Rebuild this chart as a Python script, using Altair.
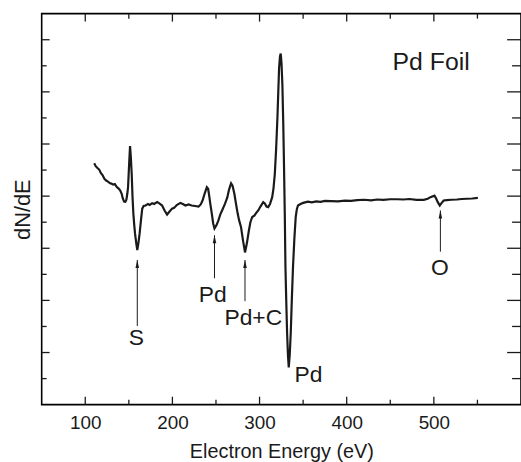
import altair as alt
import pandas as pd

# ---- data ----
energy = [110.3, 112, 114, 116, 118, 120, 122, 124, 126, 128, 130, 132, 134, 136, 138, 140,
          141.8, 143, 144.5, 146, 147.2, 148.3, 149.1, 150.3, 151.4, 152.3, 153.3, 154.2, 155.2,
          156.2, 157.1, 158.5, 159.7, 161, 162.4, 164, 165.4, 167, 169.2, 172, 174, 176.8, 179,
          182.5, 185, 188.2, 191, 193.9, 196, 199.6, 202, 205, 209.1, 212, 215, 218.6, 222, 226,
          230, 232.5, 234.6, 237, 239.5, 241, 242.2, 243.5, 245.2, 246.8, 248.3, 250.5, 252.8,
          255, 257, 260.4, 263, 265, 267.3, 269, 271.1, 273, 274.9, 276.5, 278.7, 281, 283.3,
          285.5, 287.8, 289.5, 291.6, 294, 296, 298.5, 301, 304.2, 306, 308, 309.9, 312, 314.5,
          316, 317.5, 319, 320.5, 321.5, 322.4, 323.4, 324.3, 325.2, 326.2, 327.2, 328.1, 329,
          329.7, 330.7, 331.6, 332.6, 333.5, 334.6, 335.8, 337, 338.4, 340, 341.5, 342.8, 344.1,
          347, 350, 355.5, 360, 365, 370, 375, 382.1, 390, 398, 405, 412, 420.1, 428, 435, 442,
          450, 458.1, 465, 472, 480, 488.5, 493, 496.1, 500.7, 502.5, 504.5, 506.8, 509, 511.3,
          515, 520, 526.5, 532, 538, 544, 550.5]
signal = [9.26, 9.15, 9.08, 9.02, 8.88, 8.80, 8.66, 8.60, 8.56, 8.50, 8.48, 8.44, 8.46, 8.36, 8.30, 8.22,
          8.09, 7.92, 7.79, 7.78, 7.86, 8.10, 8.34, 9.20, 9.92, 9.50, 8.85, 8.00, 7.33,
          6.90, 6.57, 6.20, 5.93, 6.20, 6.57, 7.10, 7.52, 7.62, 7.64, 7.70, 7.66, 7.73, 7.70,
          7.77, 7.72, 7.64, 7.45, 7.29, 7.38, 7.52, 7.55, 7.66, 7.74, 7.70, 7.64, 7.68, 7.64, 7.62,
          7.60, 7.68, 7.83, 8.10, 8.34, 8.28, 8.02, 7.70, 7.33, 6.95, 6.76, 6.88, 7.07,
          7.30, 7.45, 7.71, 7.95, 8.25, 8.49, 8.40, 8.09, 7.70, 7.33, 7.08, 6.82, 6.30, 5.84,
          6.20, 6.69, 7.00, 7.20, 7.25, 7.35, 7.45, 7.60, 7.77, 7.72, 7.60, 7.58, 7.70, 7.96,
          8.30, 8.85, 9.80, 11.0, 12.0, 12.9, 13.35, 13.47, 13.1, 12.27, 10.8, 9.10, 7.20,
          5.30, 3.90, 2.76, 1.90, 1.43, 1.90, 2.76, 4.00, 5.30, 6.40, 7.20, 7.50, 7.64,
          7.70, 7.74, 7.79, 7.76, 7.80, 7.78, 7.82, 7.81, 7.80, 7.83, 7.82, 7.85, 7.86, 7.84, 7.87, 7.86,
          7.88, 7.88, 7.87, 7.89, 7.86, 7.86, 7.90, 7.96, 8.02, 7.92, 7.77, 7.64, 7.74, 7.83,
          7.85, 7.86, 7.87, 7.89, 7.90, 7.91, 7.93]

x_tick_labels = [100, 200, 300, 400, 500]
x_major_ticks = [100, 200, 300, 400, 500]
x_minor_ticks = [150, 250, 350, 450, 550]
y_major_ticks = [2, 4, 6, 8, 10, 12, 14]
y_minor_ticks = [1, 3, 5, 7, 9, 11, 13]

arrow_x = [159.7, 248.3, 283.3, 507.5]
arrow_tail = [3.02, 4.85, 3.97, 5.87]
arrow_head = [5.55, 6.50, 5.55, 7.45]

label_text = ["S", "Pd", "Pd+C", "O", "Pd"]
label_x = [158.5, 246.3, 292.8, 506.8, 356.1]
label_y = [2.57, 4.22, 3.33, 5.23, 1.14]

title_text = ["Pd Foil"]
title_x = [496.9]
title_y = [13.16]

# ---- chart ----
W, H = 483, 394
FONT = "Liberation Sans"
INK = "#1a1a1a"

xs = alt.Scale(domain=[50, 600], nice=False, zero=False)
ys = alt.Scale(domain=[0, 15], nice=False, zero=False)

xaxis = alt.Axis(
    title="Electron Energy (eV)", values=x_tick_labels, ticks=False, domain=False,
    grid=False, labelFont=FONT, labelFontSize=19, labelColor=INK, labelPadding=9,
    titleFont=FONT, titleFontSize=20, titleFontWeight="normal", titleColor=INK,
    titlePadding=9)
yaxis = alt.Axis(
    title="dN/dE", labels=False, ticks=False, domain=False, grid=False,
    titleFont=FONT, titleFontSize=22, titleFontWeight="normal", titleColor=INK,
    titlePadding=7)


def X(f):
    return alt.X(f, scale=xs, axis=xaxis)


def Y(f):
    return alt.Y(f, scale=ys, axis=yaxis)


spec = pd.DataFrame({"E": energy, "S": signal})

line = alt.Chart(spec).mark_line(color=INK, strokeWidth=2.2).encode(x=X("E:Q"), y=Y("S:Q"))


def xticks(vals, y0, y1):
    return alt.Chart(pd.DataFrame({"t": vals})).mark_rule(color=INK, strokeWidth=1.3).encode(
        x=X("t:Q"), y=alt.value(y0), y2=alt.value(y1))


def yticks(vals, x0, x1):
    return alt.Chart(pd.DataFrame({"t": vals})).mark_rule(color=INK, strokeWidth=1.3).encode(
        y=Y("t:Q"), x=alt.value(x0), x2=alt.value(x1))


ticks = [
    xticks(x_major_ticks, H, H - 8), xticks(x_minor_ticks, H, H - 5),
    xticks(x_major_ticks, 0, 8), xticks(x_minor_ticks, 0, 5),
    yticks(y_major_ticks, 0, 8), yticks(y_minor_ticks, 0, 5),
    yticks(y_major_ticks, W, W - 14), yticks(y_minor_ticks, W, W - 9),
]

arr = pd.DataFrame({"x": arrow_x, "tail": arrow_tail, "head": arrow_head})
shafts = alt.Chart(arr).mark_rule(color=INK, strokeWidth=1).encode(
    x=X("x:Q"), y=Y("tail:Q"), y2="head:Q")
heads = alt.Chart(arr).mark_point(
    shape="M0,-1L0.45,1L-0.45,1Z", filled=True, color=INK, opacity=1, size=64, yOffset=4,
    strokeWidth=0).encode(x=X("x:Q"), y=Y("head:Q"))

labs = alt.Chart(pd.DataFrame({"x": label_x, "y": label_y, "t": label_text})).mark_text(
    font=FONT, fontSize=23, color=INK, baseline="middle", align="center").encode(
    x=X("x:Q"), y=Y("y:Q"), text="t:N")

ttl = alt.Chart(pd.DataFrame({"x": title_x, "y": title_y, "t": title_text})).mark_text(
    font=FONT, fontSize=25, color=INK, baseline="middle", align="center").encode(
    x=X("x:Q"), y=Y("y:Q"), text="t:N")

chart = alt.layer(line, *ticks, shafts, heads, labs, ttl).properties(
    width=W, height=H,
    padding={"left": 42, "top": 12, "right": 0, "bottom": 56},
    autosize=alt.AutoSizeParams(type="none"),
    background="white",
).configure_view(stroke="black", strokeWidth=1.6)

chart.save("out.html", embed_options={"renderer": "svg", "actions": False})
